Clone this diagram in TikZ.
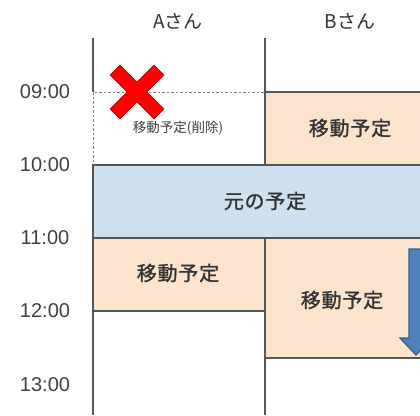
\documentclass[tikz,border=0pt]{standalone}
\usepackage{fontspec}
\setmainfont{Liberation Sans}
\newfontfamily\jpfont{Noto Sans CJK JP}
\newfontfamily\jpboxfont{Noto Sans CJK JP}[FakeBold=1.2,LetterSpace=4]
\usetikzlibrary{positioning}
\definecolor{movefill}{HTML}{FCE4CC}\definecolor{origfill}{HTML}{CFE0F1}
\definecolor{gridline}{HTML}{555555}\definecolor{arrowfill}{HTML}{4F81BD}\definecolor{arrowline}{HTML}{385D8A}
\begin{document}
\begin{tikzpicture}[x=1pt,y=-1pt,
  axis/.style={draw=gridline,line width=1.2pt},
  slot/.style={draw=gridline,line width=1.2pt},
  move/.style={slot,fill=movefill},orig/.style={slot,fill=origfill},
  gone/.style={draw=gray,fill=white,dash pattern=on 2.5pt off 2pt,line width=0.9pt},
  boxtext/.style={font=\jpboxfont\fontsize{20}{20}\selectfont,text=black!80},
  smalltext/.style={font=\jpfont\fontsize{13.5}{13.5}\selectfont,text=black!75},
  hour/.style={font=\fontsize{20}{20}\selectfont,text=black!75},
  person/.style={font=\jpfont\fontsize{19}{19}\selectfont,text=black!80}]
\clip (0,0) rectangle (420,415);
\fill[white] (0,0) rectangle (420,415);
\node[person] (pa) at (178,21) {Aさん};\node[person] (pb) at (350,21) {Bさん};
\node[hour] (t09) at (45,92) {09:00};\node[hour] (t10) at (45,165) {10:00};\node[hour] (t11) at (45,238) {11:00};
\node[hour] (t12) at (45,311) {12:00};\node[hour] (t13) at (45,385) {13:00};
\draw[axis] (93,38)--(93,92);\draw[axis] (93,165)--(93,415);\draw[axis] (265,38)--(265,415);
\draw[gone] (93,92) rectangle (265,165);\node[smalltext] (adel) at (178,128) {移動予定(削除)};
\draw[move] (265,92) rectangle (440,165);\node[boxtext] (bmove1) at (350,128) {移動予定};
\draw[orig] (93,165) rectangle (440,238);\node[boxtext] (orig) at (265,201) {元の予定};
\draw[move] (93,238) rectangle (265,311);\node[boxtext] (amove) at (178,273) {移動予定};
\draw[move] (265,238) rectangle (440,358);\node[boxtext] (bmove2) at (342,300) {移動予定};
% shift arrow
\draw[fill=arrowfill,draw=arrowline,line width=1.3pt] (409,249)--(423,249)--(423,338)--(432,338)--(416,355)--(400,338)--(409,338)--cycle;
% deleted mark
\begin{scope}[shift={(137,92)},rotate=45]
\draw[fill=red,draw=red!75!black,line width=0.8pt] (-7,-31)--(7,-31)--(7,-7)--(31,-7)--(31,7)--(7,7)--(7,31)--(-7,31)--(-7,7)--(-31,7)--(-31,-7)--(-7,-7)--cycle;
\end{scope}
\end{tikzpicture}
\end{document}
